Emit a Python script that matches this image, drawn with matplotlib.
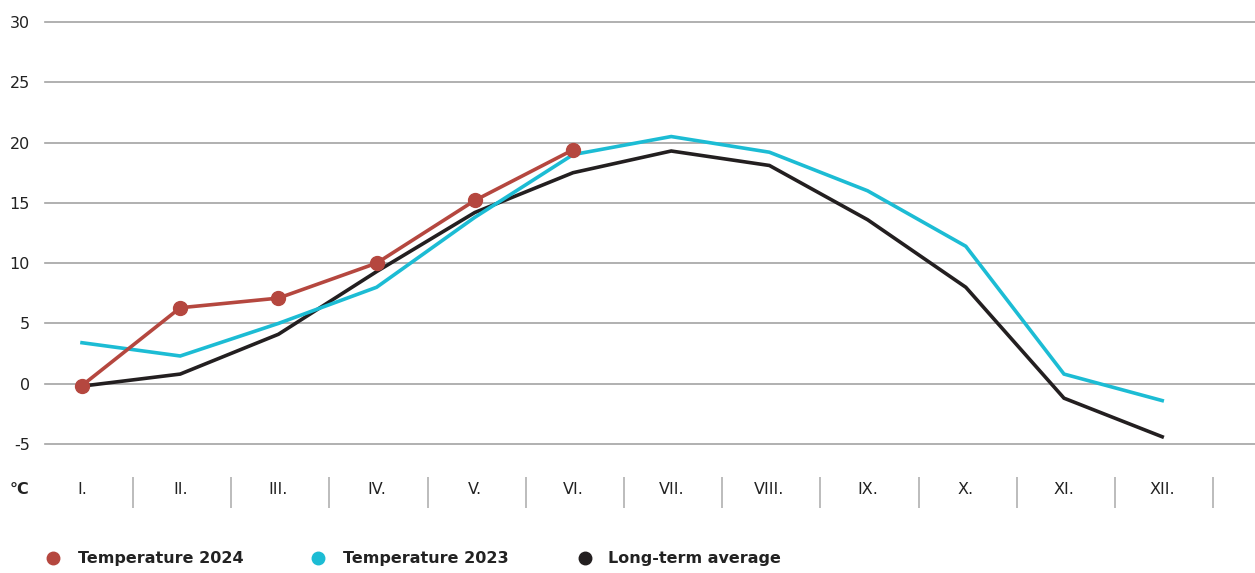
import numpy as np
import matplotlib.pyplot as plt
import matplotlib.transforms as mtransforms

plt.rcParams['font.family'] = ['DejaVu Sans']

# data
months = ["I.", "II.", "III.", "IV.", "V.", "VI.", "VII.", "VIII.", "IX.", "X.", "XI.", "XII."]
temp_2024 = [-0.15, 6.3, 7.1, 10.0, 15.2, 19.4]
temp_2023 = [3.4, 2.3, 5.0, 8.0, 13.8, 19.0, 20.5, 19.2, 16.0, 11.4, 0.8, -1.4]
long_term = [-0.2, 0.8, 4.1, 9.3, 14.2, 17.5, 19.3, 18.1, 13.6, 8.0, -1.2, -4.4]
yticks = [-5, 0, 5, 10, 15, 20, 25, 30]

c_2024 = "#B5473F"
c_2023 = "#1CBCD4"
c_avg = "#231F20"
c_grid = "#A3A3A3"
c_text = "#222222"

W, H = 1255, 573
fig = plt.figure(figsize=(W / 100, H / 100), dpi=100)
# axes box in pixels: x 45..1255, y 22..444
ax = fig.add_axes([45 / W, 1 - 444 / H, (1255 - 45) / W, (444 - 22) / H])

x = np.arange(len(months))
ax.plot(x, long_term, color=c_avg, lw=2.6, solid_joinstyle="miter", zorder=3)
ax.plot(x, temp_2023, color=c_2023, lw=2.6, solid_joinstyle="miter", zorder=4)
ax.plot(x[:len(temp_2024)], temp_2024, color=c_2024, lw=2.6, marker="o",
        markersize=10, zorder=5)

ax.set_ylim(-5, 30)
ax.set_xlim(-0.377, 11.945)
ax.set_yticks(yticks)
ax.set_yticklabels([str(v) for v in yticks], fontsize=11.5, color=c_text)
ax.tick_params(axis="y", length=0, pad=11)
ax.set_xticks([])
for v in yticks:
    ax.axhline(v, color=c_grid, lw=1.2, zorder=1, clip_on=False)
for sp in ax.spines.values():
    sp.set_visible(False)

# month labels and separators under the plot
trans = mtransforms.blended_transform_factory(ax.transData, ax.transAxes)
lab_y = (444 - 489) / 422
for i, m in enumerate(months):
    ax.text(i, lab_y, m, transform=trans, ha="center", va="center",
            fontsize=11.5, color=c_text)
ax.vlines(x + 0.52, (444 - 477) / 422, (444 - 508) / 422, transform=trans,
          color="#B0B0B0", lw=1.2, clip_on=False)
fig.text(10 / W, 1 - 489 / H, "°C", ha="left", va="center", fontsize=11.5,
         fontweight="bold", color=c_text)

# legend
leg_y = 1 - 558 / H
items = [(53, 78, c_2024, "Temperature 2024"),
         (318, 343, c_2023, "Temperature 2023"),
         (585, 608, c_avg, "Long-term average")]
for dot_x, txt_x, col, label in items:
    fig.lines.append(plt.Line2D([dot_x / W], [leg_y], marker="o", markersize=9,
                                color=col, transform=fig.transFigure))
    fig.text(txt_x / W, leg_y, label, ha="left", va="center", fontsize=11.5,
             fontweight="bold", color=c_text)

fig.savefig("out.png", dpi=100)
